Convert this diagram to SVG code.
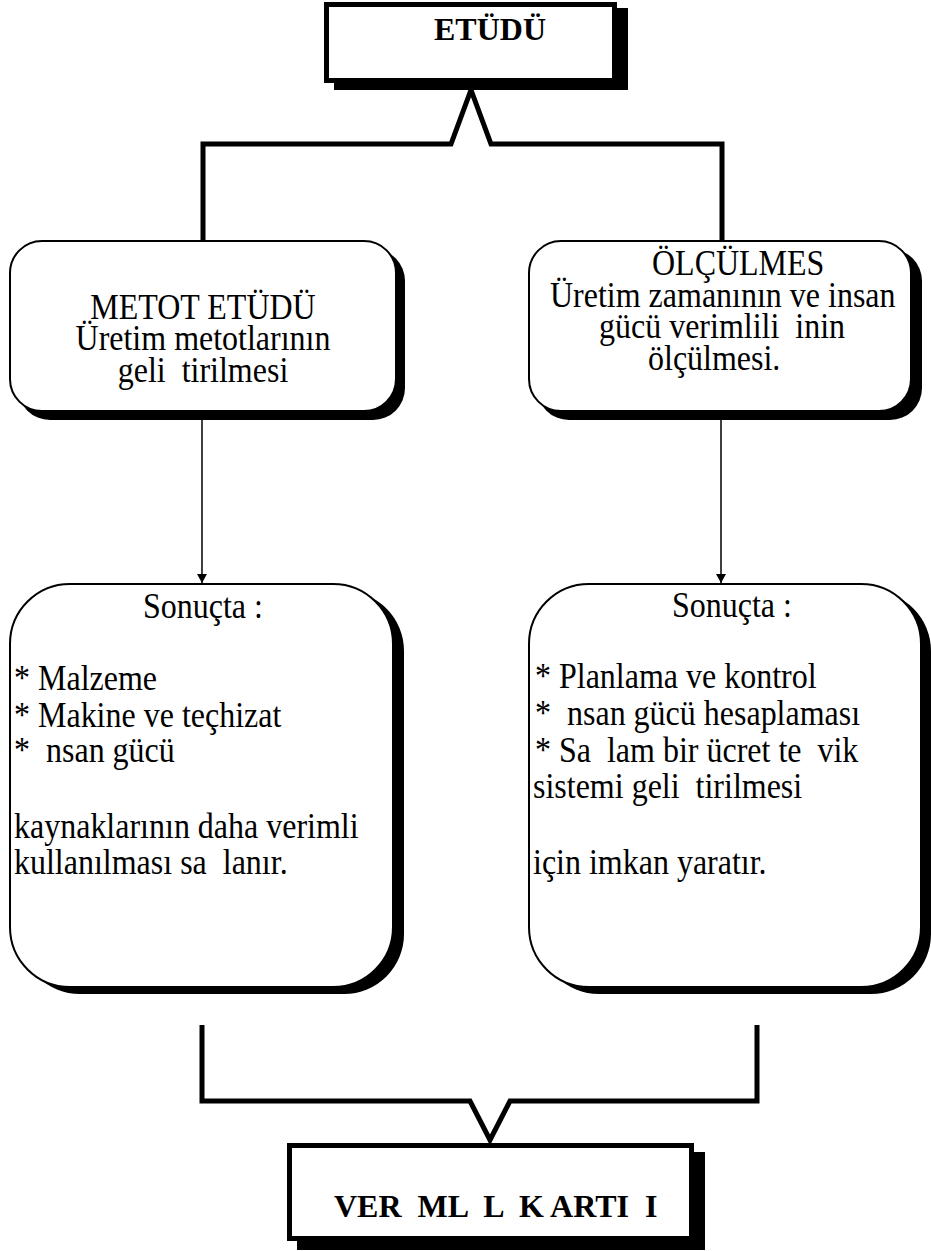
<svg xmlns="http://www.w3.org/2000/svg" width="931" height="1251" viewBox="0 0 931 1251">
<style>
text{font-family:"Liberation Serif","Times New Roman",serif;font-size:32px;fill:#000;white-space:pre}
.b{font-weight:bold}
.box{fill:#fff;stroke:#000;stroke-width:2}
.hbox{fill:#fff;stroke:#000;stroke-width:5}
.sh{fill:#000}
.con{fill:none;stroke:#000;stroke-width:5;stroke-linejoin:miter}
.arr{fill:none;stroke:#000;stroke-width:1.5}
</style>
<defs>
<marker id="ah" markerWidth="10" markerHeight="10" refX="9" refY="5" orient="auto" markerUnits="userSpaceOnUse">
<path d="M0,0 L9,5 L0,10 Z" fill="#000"/>
</marker>
</defs>
<g id="connectors">
<path class="con" d="M203,240 L203,144 L451,144 L471,90 L491,144 L722,144 L722,240"/>
<line class="arr" x1="202" y1="420" x2="202" y2="583" marker-end="url(#ah)"/>
<line class="arr" x1="721" y1="420" x2="721" y2="583" marker-end="url(#ah)"/>
<path class="con" d="M202,1025 L202,1101 L470,1101 L490,1140 L510,1101 L757,1101 L757,1025"/>
</g>
<g id="etudu">
<rect class="sh" x="334" y="8" width="294" height="82"/>
<rect class="hbox" x="326.5" y="4.5" width="288" height="76"/>
<text class="b" x="434" y="40">ETÜDÜ</text>
</g>
<g id="metot">
<rect class="sh" x="18" y="249" width="387" height="171" rx="32"/>
<rect class="box" x="10" y="241" width="386" height="170" rx="32"/>
<text transform="translate(203,319) scale(1,1.1)" text-anchor="middle">METOT ETÜDÜ</text>
<text transform="translate(203,350) scale(1,1.1)" text-anchor="middle">Üretim metotlarının</text>
<text transform="translate(203,382) scale(1,1.1)" text-anchor="middle" xml:space="preserve">geli  tirilmesi</text>
</g>
<g id="olculmes">
<rect class="sh" x="537" y="249" width="385" height="171" rx="32"/>
<rect class="box" x="529" y="241" width="382" height="170" rx="32"/>
<text transform="translate(652,275) scale(1,1.1)">ÖLÇÜLMES</text>
<text transform="translate(550,307) scale(1,1.1)">Üretim zamanının ve insan</text>
<text transform="translate(599,338) scale(1,1.1)" xml:space="preserve">gücü verimlili  inin</text>
<text transform="translate(648,370) scale(1,1.1)">ölçülmesi.</text>
</g>
<g id="sonucta-left">
<rect class="sh" x="20" y="591" width="384" height="403" rx="60"/>
<rect class="box" x="10" y="584" width="383" height="403" rx="60"/>
<text transform="translate(143,618) scale(1,1.1)">Sonuçta :</text>
<text transform="translate(14,690) scale(1,1.1)">* Malzeme</text>
<text transform="translate(14,727) scale(1,1.1)">* Makine ve teçhizat</text>
<text transform="translate(14,762) scale(1,1.1)" xml:space="preserve">*  nsan gücü</text>
<text transform="translate(14,838) scale(1,1.1)">kaynaklarının daha verimli</text>
<text transform="translate(14,874) scale(1,1.1)" xml:space="preserve">kullanılması sa  lanır.</text>
</g>
<g id="sonucta-right">
<rect class="sh" x="539" y="591" width="392" height="403" rx="60"/>
<rect class="box" x="529" y="584" width="392" height="403" rx="60"/>
<text transform="translate(672,617) scale(1,1.1)">Sonuçta :</text>
<text transform="translate(535,688) scale(1,1.1)">* Planlama ve kontrol</text>
<text transform="translate(535,725) scale(1,1.1)" xml:space="preserve">*  nsan gücü hesaplaması</text>
<text transform="translate(535,762) scale(1,1.1)" xml:space="preserve">* Sa  lam bir ücret te  vik</text>
<text transform="translate(533,798) scale(1,1.1)" xml:space="preserve">sistemi geli  tirilmesi</text>
<text transform="translate(533,874) scale(1,1.1)">için imkan yaratır.</text>
</g>
<g id="verimlilik">
<rect class="sh" x="297" y="1152" width="408" height="98"/>
<rect class="hbox" x="289.5" y="1145.5" width="402" height="93"/>
<text class="b" x="334" y="1217" xml:space="preserve">VER  ML  L  K ARTI  I</text>
</g>
</svg>
